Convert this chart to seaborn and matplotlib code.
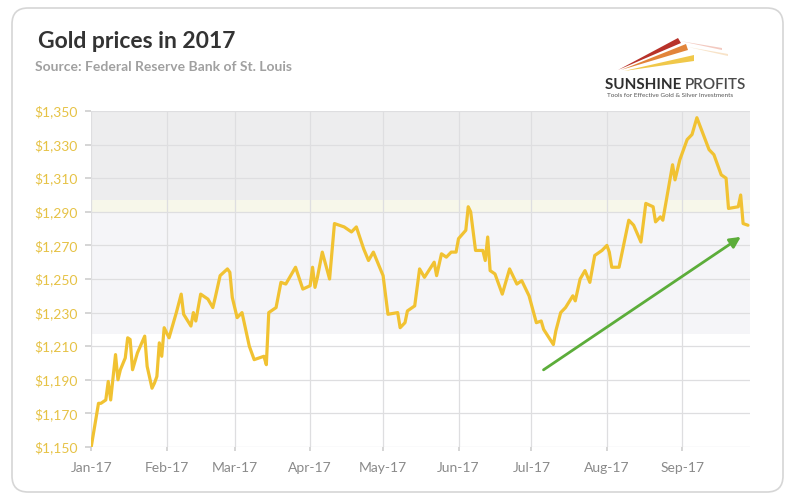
import matplotlib.pyplot as plt
import matplotlib.dates as mdates
import pandas as pd
import seaborn as sns
from matplotlib.patches import FancyBboxPatch, Polygon
from matplotlib.ticker import FuncFormatter
from matplotlib.transforms import IdentityTransform

# Gold price (USD/oz)
dates = [
    '2017-01-01', '2017-01-04', '2017-01-05', '2017-01-07', '2017-01-08', '2017-01-09',
    '2017-01-11', '2017-01-12', '2017-01-13', '2017-01-15', '2017-01-16', '2017-01-17',
    '2017-01-18', '2017-01-20', '2017-01-23', '2017-01-24', '2017-01-26', '2017-01-27',
    '2017-01-28', '2017-01-29', '2017-01-30', '2017-01-31',
    '2017-02-02', '2017-02-05', '2017-02-07', '2017-02-08', '2017-02-11', '2017-02-12',
    '2017-02-13', '2017-02-15', '2017-02-18', '2017-02-20', '2017-02-21', '2017-02-23',
    '2017-02-26', '2017-02-27', '2017-02-28',
    '2017-03-02', '2017-03-04', '2017-03-07', '2017-03-09', '2017-03-13', '2017-03-14',
    '2017-03-15', '2017-03-18', '2017-03-20', '2017-03-22', '2017-03-26', '2017-03-29',
    '2017-04-01', '2017-04-02', '2017-04-03', '2017-04-04', '2017-04-06', '2017-04-09',
    '2017-04-11', '2017-04-15', '2017-04-18', '2017-04-20', '2017-04-23', '2017-04-25',
    '2017-04-27',
    '2017-05-01', '2017-05-03', '2017-05-07', '2017-05-08', '2017-05-10', '2017-05-11',
    '2017-05-14', '2017-05-16', '2017-05-18', '2017-05-22', '2017-05-23', '2017-05-25',
    '2017-05-27', '2017-05-29', '2017-05-31',
    '2017-06-01', '2017-06-04', '2017-06-05', '2017-06-06', '2017-06-08', '2017-06-11',
    '2017-06-12', '2017-06-13', '2017-06-14', '2017-06-16', '2017-06-19', '2017-06-22',
    '2017-06-25', '2017-06-27', '2017-06-30',
    '2017-07-03', '2017-07-05', '2017-07-06', '2017-07-10', '2017-07-11', '2017-07-13',
    '2017-07-15', '2017-07-18', '2017-07-19', '2017-07-21', '2017-07-23', '2017-07-25',
    '2017-07-27', '2017-07-30',
    '2017-08-01', '2017-08-02', '2017-08-03', '2017-08-06', '2017-08-10', '2017-08-12',
    '2017-08-15', '2017-08-17', '2017-08-20', '2017-08-21', '2017-08-23', '2017-08-24',
    '2017-08-28', '2017-08-29', '2017-08-31',
    '2017-09-03', '2017-09-05', '2017-09-07', '2017-09-12', '2017-09-14', '2017-09-17',
    '2017-09-19', '2017-09-20', '2017-09-24', '2017-09-25', '2017-09-26', '2017-09-28',
]
prices = [
    1150, 1176, 1176, 1178, 1189, 1178, 1205, 1190, 1196, 1203, 1215, 1214,
    1196, 1206, 1216, 1198, 1185, 1188, 1192, 1212, 1204, 1221,
    1215, 1230, 1241, 1229, 1222, 1230, 1225, 1241, 1238, 1233, 1239, 1252,
    1256, 1254, 1239,
    1227, 1230, 1210, 1202, 1204, 1199, 1230, 1233, 1248, 1247, 1257, 1244,
    1246, 1257, 1245, 1251, 1266, 1250, 1283, 1281, 1278, 1281, 1268, 1261,
    1266,
    1252, 1229, 1230, 1221, 1224, 1231, 1234, 1256, 1251, 1260, 1252, 1265,
    1263, 1266, 1266,
    1274, 1279, 1293, 1290, 1267, 1267, 1261, 1275, 1255, 1253, 1241, 1256,
    1247, 1249, 1240,
    1224, 1225, 1220, 1211, 1219, 1230, 1233, 1240, 1237, 1250, 1255, 1248,
    1264, 1267,
    1270, 1266, 1257, 1257, 1285, 1282, 1272, 1295, 1293, 1284, 1287, 1285,
    1318, 1309, 1321,
    1333, 1336, 1346, 1327, 1324, 1312, 1310, 1292, 1293, 1300, 1283, 1282,
]

y_ticks = [1150, 1170, 1190, 1210, 1230, 1250, 1270, 1290, 1310, 1330, 1350]

# green trend arrow (start, end)
trend_dates = ['2017-07-05', '2017-09-26']
trend_prices = [1195, 1276]

df = pd.DataFrame({'date': pd.to_datetime(dates), 'price': prices})

sns.set_theme(style='white')
plt.rcParams['font.family'] = ['Lato', 'DejaVu Sans']

gold = '#f1c232'
label_gold = '#e6c245'

fig = plt.figure(figsize=(8, 5), dpi=100)
ax = fig.add_axes([0.114, 0.106, 0.824, 0.672])

# background bands
ax.axhspan(1297, 1350, color='#ededee', zorder=0, lw=0)
ax.axhspan(1290, 1297, color='#f7f7ea', zorder=0, lw=0)
ax.axhspan(1217, 1290, color='#f5f5f8', zorder=0, lw=0)

sns.lineplot(x='date', y='price', data=df, ax=ax, color=gold, linewidth=2.3, zorder=3)

ax.annotate('', xy=(pd.Timestamp(trend_dates[1]), trend_prices[1]),
            xytext=(pd.Timestamp(trend_dates[0]), trend_prices[0]),
            arrowprops=dict(arrowstyle='-|>', color='#5cad3a', lw=2,
                            mutation_scale=16), zorder=4)

ax.set_xlim(pd.Timestamp('2017-01-01'), pd.Timestamp('2017-09-29'))
ax.set_ylim(1150, 1350)
ax.set_yticks(y_ticks)
ax.yaxis.set_major_formatter(FuncFormatter(lambda v, p: f'${v:,.0f}'))
ax.xaxis.set_major_locator(mdates.MonthLocator())
ax.xaxis.set_major_formatter(mdates.DateFormatter('%b-%y'))

ax.grid(True, color='#dedee0', linewidth=0.9)
ax.set_axisbelow(True)
for s in ax.spines.values():
    s.set_visible(False)
ax.tick_params(axis='y', length=4, color='#d0d0d0', pad=6, labelsize=10,
               labelcolor=label_gold, left=True)
ax.tick_params(axis='x', length=3, color='#d0d0d0', pad=8, labelsize=10,
               labelcolor='#8a8a8a', bottom=True)
ax.set_xlabel('')
ax.set_ylabel('')

# titles
fig.text(0.047, 0.904, 'Gold prices in 2017', fontsize=16.5, fontweight='bold',
         color='#333333', va='baseline')
fig.text(0.044, 0.858, 'Source: Federal Reserve Bank of St. Louis', fontsize=10,
         fontweight='bold', color='#a0a0a0', va='baseline')

# logo
def px(x, y):
    return (x / 800, 1 - y / 500)

for pts, c in [([(618, 70), (678, 38), (681, 43)], '#b8322a'),
               ([(621, 70), (686, 44), (688, 50)], '#e2843a'),
               ([(624, 71), (694, 55), (694, 61)], '#f0c84a')]:
    fig.patches.append(Polygon([px(*p) for p in pts], closed=True, color=c,
                               transform=fig.transFigure, lw=0))
for pts, c in [([(680, 41), (722, 48), (722, 50)], '#f3c9c0'),
               ([(688, 47), (728, 54), (728, 56)], '#f8e3c8')]:
    fig.patches.append(Polygon([px(*p) for p in pts], closed=True, color=c,
                               transform=fig.transFigure, lw=0))

t1 = fig.text(0.756, 0.822, 'SUNSHINE ', fontsize=11, fontweight='bold',
              color='#2e2e2e', va='baseline')
ax.annotate('PROFITS', xy=(1, 0), xycoords=t1, va='bottom', ha='left',
            fontsize=11, color='#4a4a4a', fontweight='semibold',
            annotation_clip=False)
fig.text(0.759, 0.806, 'Tools for Effective Gold & Silver Investments', fontsize=4.6,
         color='#555555', va='baseline')

# rounded frame
fig.patches.append(FancyBboxPatch((12, 8), 771, 484,
                                  boxstyle='round,pad=0,rounding_size=16',
                                  transform=IdentityTransform(), fill=False,
                                  edgecolor='#d6d6d6', lw=1.2))

fig.savefig('out.png', dpi=100)
